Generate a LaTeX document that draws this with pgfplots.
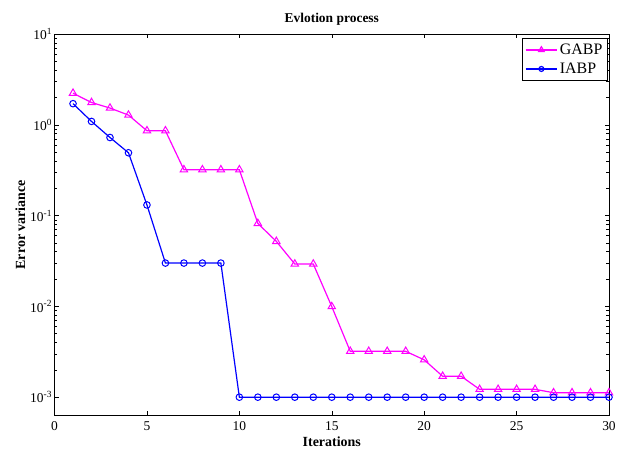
\documentclass[border=0pt]{standalone}
\usepackage{fontspec}
\setmainfont{Liberation Serif}
\usepackage{pgfplots}
\pgfplotsset{compat=1.18}
\begin{document}
\begin{tikzpicture}
\begin{axis}[
  scale only axis,
  width=554bp, height=381bp,
  xmin=0, xmax=30,
  ymode=log,
  ymin=6.31e-4, ymax=10,
  xtick={0,5,10,15,20,25,30},
  xticklabels={0,5,10,15,20,25,30},
  ytick={1e-3,1e-2,1e-1,1,10},
  yticklabels={10\textsuperscript{-3},10\textsuperscript{-2},10\textsuperscript{-1},10\textsuperscript{0},10\textsuperscript{1}},
  minor ytick={},
  tick align=inside,
  major tick length=4bp,
  tick style={black, line width=0.5pt},
  axis line style={black, line width=0.6pt},
  tick label style={font=\fontsize{13.5}{14}\selectfont},
  yticklabel style={xshift=1bp},
  xticklabel style={yshift=-3bp},
  title={\textbf{Evlotion process}},
  title style={font=\fontsize{13.5}{14}\selectfont, yshift=-1bp},
  xlabel={\textbf{Iterations}},
  ylabel={\textbf{Error variance}},
  xlabel style={font=\fontsize{14}{14}\selectfont, yshift=1bp},
  ylabel style={font=\fontsize{14}{14}\selectfont, yshift=-2bp},
  legend style={at={(0.9975,0.989)}, anchor=north east, draw=black,
    font=\fontsize{16}{18}\selectfont, inner xsep=3pt, inner ysep=3.5pt, row sep=3pt},
  legend cell align=left,
  legend image code/.code={\draw[mark repeat=2,mark phase=2, mark options={solid, scale=0.75}] plot coordinates {(0cm,0cm) (0.56cm,0cm) (1.12cm,0cm)};},
  clip=false,
]
\addplot[color={rgb,1:red,1;green,0;blue,1}, line width=1.2pt, mark=triangle, mark size=4.3pt, mark options={solid, line width=1pt}]
coordinates {
(1,2.23) (2,1.76) (3,1.53) (4,1.28) (5,0.86) (6,0.86) (7,0.32) (8,0.32) (9,0.32) (10,0.32)
(11,0.082) (12,0.052) (13,0.0293) (14,0.0293) (15,0.00995) (16,0.0032) (17,0.0032) (18,0.0032) (19,0.0032) (20,0.00258)
(21,0.0017) (22,0.0017) (23,0.00122) (24,0.00122) (25,0.00122) (26,0.00122) (27,0.00112) (28,0.00112) (29,0.00112) (30,0.00112)
};
\addlegendentry{GABP}
\addplot[color={rgb,1:red,0;green,0;blue,1}, line width=1.2pt, mark=o, mark size=3.3pt, mark options={solid, line width=1pt}]
coordinates {
(1,1.71) (2,1.09) (3,0.725) (4,0.492) (5,0.131) (6,0.030) (7,0.030) (8,0.030) (9,0.030) (10,0.001)
(11,0.001) (12,0.001) (13,0.001) (14,0.001) (15,0.001) (16,0.001) (17,0.001) (18,0.001) (19,0.001) (20,0.001)
(21,0.001) (22,0.001) (23,0.001) (24,0.001) (25,0.001) (26,0.001) (27,0.001) (28,0.001) (29,0.001) (30,0.001)
};
\addlegendentry{IABP}
\coordinate (bl) at (rel axis cs:0,0);
\coordinate (tr) at (rel axis cs:1,1);
\end{axis}
\path ([shift={(-54.5bp,-34.5bp)}]bl) rectangle ([shift={(13bp,34bp)}]tr);
\end{tikzpicture}
\end{document}
